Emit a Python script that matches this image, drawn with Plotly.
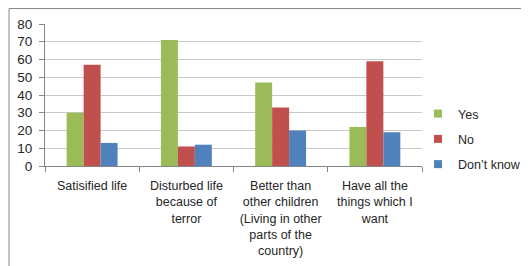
import plotly.graph_objects as go

categories = [
    "Satisified life",
    "Disturbed life<br>because of<br>terror",
    "Better than<br>other children<br>(Living in other<br>parts of the<br>country)",
    "Have all the<br>things which I<br>want",
]
yes_vals = [30, 71, 47, 22]
no_vals = [57, 11, 33, 59]
dont_know_vals = [13, 12, 20, 19]
y_ticks = [0, 10, 20, 30, 40, 50, 60, 70, 80]

series = [
    ("Yes", yes_vals, "#9BBB59"),
    ("No", no_vals, "#C0504D"),
    ("Don’t know", dont_know_vals, "#4F81BD"),
]

# page body has an 8px margin; figure origin sits at page (8, 8)
OFF = 8
W, H = 529 - OFF, 266 - OFF
L, R, T, B = 45 - OFF, W - (422 - OFF), 24 - OFF, H - (166 - OFF)
pw, ph = W - L - R, H - T - B

def px_x(px):  # page pixel -> paper
    return (px - OFF - L) / pw

def px_y(py):
    return (H - B - (py - OFF)) / ph

fig = go.Figure()
for name, vals, col in series:
    fig.add_trace(go.Bar(
        x=categories, y=vals, name=name, marker_color=col,
        marker_line_width=0, showlegend=False,
    ))
# legend entries with small square keys
for name, vals, col in series:
    fig.add_trace(go.Scatter(
        x=[None], y=[None], mode="markers", name=name, legendgroup=name,
        marker=dict(symbol="square", size=8, color=col),
    ))

fig.update_layout(
    width=W, height=H,
    margin=dict(l=L, r=R, t=T, b=B, autoexpand=False),
    paper_bgcolor="white", plot_bgcolor="white",
    barmode="group", bargap=0.46, bargroupgap=0,
    font=dict(family="Liberation Sans", size=12, color="#262626"),
    legend=dict(
        x=px_x(418), y=px_y(99), xanchor="left", yanchor="top",
        font=dict(size=12.5), tracegroupgap=6, traceorder="grouped",
        itemwidth=30, bgcolor="rgba(0,0,0,0)",
    ),
    showlegend=True,
)
fig.update_xaxes(
    type="category", showline=True, linecolor="#868686", linewidth=1,
    ticks="outside", tickson="boundaries", ticklen=5, tickcolor="#868686",
    showgrid=False, tickfont=dict(size=12.5), ticklabelstandoff=8,
    tickangle=0,
)
fig.update_yaxes(
    range=[0, 80], tickvals=y_ticks, showline=True, linecolor="#868686",
    linewidth=1, ticks="outside", ticklen=5, tickcolor="#868686",
    showgrid=True, gridcolor="#c8c8c8", gridwidth=1, zeroline=False,
    tickfont=dict(size=13.5), ticklabelstandoff=4,
)
fig.add_shape(
    type="rect", xref="paper", yref="paper",
    x0=px_x(9), x1=px_x(560), y0=px_y(300), y1=px_y(8.5),
    line=dict(color="#8a8a8a", width=1), fillcolor="rgba(0,0,0,0)", layer="below",
)
fig.write_html("out.html")
